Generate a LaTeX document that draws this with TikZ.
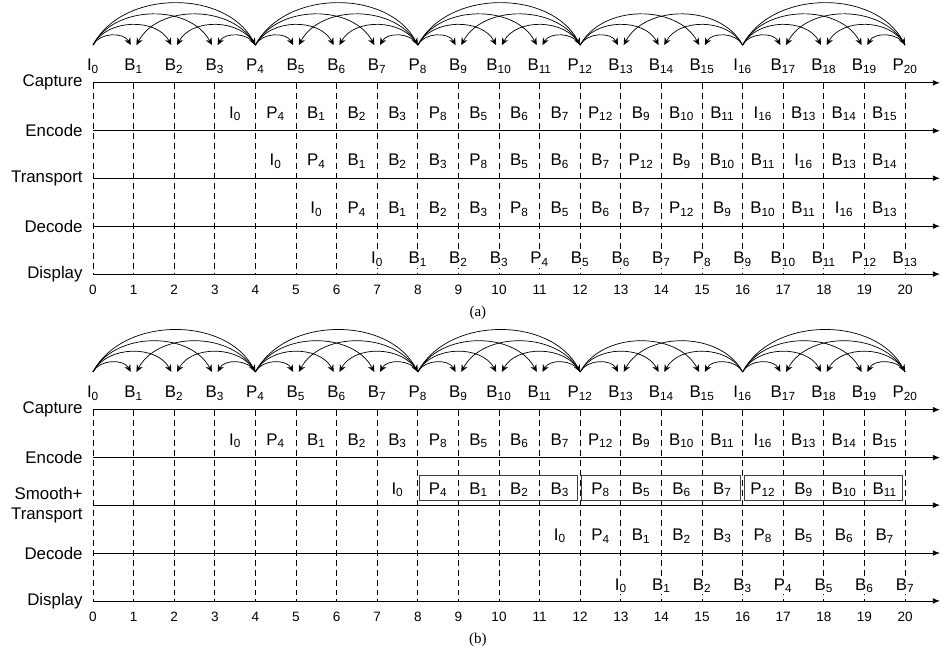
\documentclass[tikz,border=0pt]{standalone}
\usepackage{fontspec}
\setmainfont{Liberation Sans}
\newfontfamily\capfont{Liberation Serif}
\usetikzlibrary{arrows.meta,positioning,calc}
\tikzset{
  tl/axis/.style={line width=0.6pt, -{Latex[length=5pt,width=4pt]}},
  tl/grid/.style={line width=0.5pt, dash pattern=on 4.2pt off 2.8pt},
  tl/ref/.style={line width=0.5pt, -{Stealth[length=5pt,width=4.5pt]}},
  tl/row/.style={font=\fontsize{11.8}{13.5}\selectfont, align=right, inner sep=0pt},
  tl/cell/.style={font=\fontsize{11.8}{13}\selectfont, inner sep=1pt, fill=white},
  tl/tick/.style={font=\fontsize{9.5}{10}\selectfont, inner sep=0pt},
  tl/caption/.style={font=\capfont\fontsize{10.5}{11}\selectfont, inner sep=0pt},
  tl/sbox/.style={draw=black!75, line width=0.5pt, anchor=south west, minimum width=3.9cm, minimum height=0.62cm, inner sep=0pt}
}
\newcommand{\fr}[2]{#1\textsubscript{#2}}
% display order and coding order of the frames
\newcommand{\capseq}{I/0,B/1,B/2,B/3,P/4,B/5,B/6,B/7,P/8,B/9,B/10,B/11,P/12,B/13,B/14,B/15,I/16,B/17,B/18,B/19,P/20}
\newcommand{\encseq}{I/0,P/4,B/1,B/2,B/3,P/8,B/5,B/6,B/7,P/12,B/9,B/10,B/11,I/16,B/13,B/14,B/15}
% #1 list, #2 first slot, #3 last slot, #4 x offset, #5 y, #6 name prefix
\newcommand{\putseq}[6]{%
  \foreach \t/\n [count=\k from #2] in #1 {%
    \ifnum\k>#3\relax\else
      \node[tl/cell] (#6\k) at (\k+#4,#5) {\fr{\t}{\n}};
    \fi}}

\begin{document}
\begin{tikzpicture}
  \useasboundingbox (-2.29,0) rectangle (20.91,-16.16);
  \foreach \p/\dy/\third/\capt in {a/0/Transport/(a), b/-8.05/{Smooth+\\Transport}/(b)}{
    \begin{scope}[yshift=\dy cm]
      % frames and their references
      \putseq{\capseq}{0}{20}{0}{-1.63}{f\p}
      \foreach \i in {0,...,20} \coordinate (t\p\i) at (\i,-1.11);
      \foreach \s/\d/\o in {0/1/-2pt,0/2/-2pt,0/3/-2pt,0/4/0pt,4/5/-2pt,4/6/-2pt,4/7/-2pt,4/8/0pt,
          8/9/-2pt,8/10/-2pt,8/11/-2pt,8/12/0pt,12/13/-2pt,12/14/-2pt,12/15/-2pt,
          16/17/-2pt,16/18/-2pt,16/19/-2pt,16/20/0pt}
        \draw[tl/ref] (t\p\s) to[bend left=62] ([xshift=\o]t\p\d);
      \foreach \s/\d in {4/1,4/2,4/3,8/5,8/6,8/7,12/9,12/10,12/11,16/13,16/14,16/15,20/17,20/18,20/19}
        \draw[tl/ref] (t\p\s) to[bend right=62] ([xshift=2pt]t\p\d);
      % time lines
      \foreach \r/\y/\txt in {cap/-2.04/Capture, enc/-3.22/Encode, mid/-4.39/\third, dec/-5.57/Decode, dis/-6.75/Display}{
        \coordinate (\r\p) at (0,\y);
        \coordinate (\r\p e) at (20.86,\y);
        \draw[tl/axis] (\r\p) -- (\r\p e);
        \node[tl/row, left=2.5mm of \r\p] (l\r\p) {\txt};
      }
      \foreach \i in {0,...,20}{
        \coordinate (g\p\i) at (\i,-2.04);
        \coordinate (h\p\i) at (\i,-6.75);
        \draw[tl/grid] (g\p\i) -- (h\p\i);
        \node[tl/tick] (n\p\i) at (\i,-7.14) {\i};
      }
      \node[tl/caption] (sub\p) at (9.48,-7.70) {\capt};
      \putseq{\encseq}{3}{19}{0.5}{-2.80}{e\p}
    \end{scope}
  }
  % (a)
  \putseq{\encseq}{4}{19}{0.5}{-3.97}{ta}
  \putseq{\encseq}{5}{19}{0.5}{-5.15}{da}
  \putseq{\capseq}{7}{20}{0}{-6.38}{pa}
  % (b)
  \begin{scope}[yshift=-8.05cm]
    \node[tl/sbox] (sb1) at (8.02,-4.28) {};
    \node[tl/sbox] (sb2) at (12.03,-4.28) {};
    \node[tl/sbox] (sb3) at (16.03,-4.28) {};
    \putseq{\encseq}{7}{19}{0.5}{-4.01}{sb}
    \putseq{\encseq}{11}{19}{0.5}{-5.15}{db}
    \putseq{\capseq}{13}{20}{0}{-6.38}{pb}
  \end{scope}
\end{tikzpicture}
\end{document}
